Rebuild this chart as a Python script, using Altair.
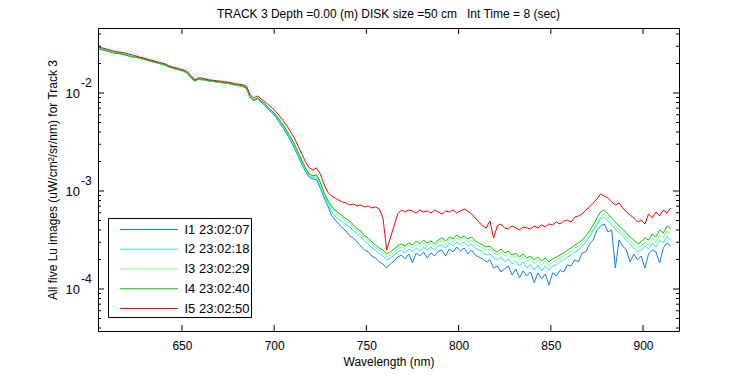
import altair as alt
import pandas as pd

# Wavelength grid (nm)
wavelength = [
    605, 607, 609, 611, 613, 615, 617, 619, 621, 623,
    625, 627, 629, 631, 633, 635, 637, 639, 641, 643,
    645, 647, 649, 651, 653, 655, 657, 659, 661, 663,
    665, 667, 669, 671, 673, 675, 677, 679, 681, 683,
    685, 687, 689, 691, 693, 695, 697, 699, 701, 703,
    705, 707, 709, 711, 713, 715, 717, 719, 721, 723,
    725, 727, 729, 731, 733, 735, 737, 739, 741, 743,
    745, 747, 749, 751, 753, 755, 757, 759, 761, 763,
    765, 767, 769, 771, 773, 775, 777, 779, 781, 783,
    785, 787, 789, 791, 793, 795, 797, 799, 801, 803,
    805, 807, 809, 811, 813, 815, 817, 819, 821, 823,
    825, 827, 829, 831, 833, 835, 837, 839, 841, 843,
    845, 847, 849, 851, 853, 855, 857, 859, 861, 863,
    865, 867, 869, 871, 873, 875, 877, 879, 881, 883,
    885, 887, 889, 891, 893, 895, 897, 899, 901, 903,
    905, 907, 909, 911, 913, 915,
]

# Lu values, in units of 1e-3 uW/cm^2/sr/nm
i1 = [
    28.7, 28.0, 27.3, 26.6, 26.0, 25.6, 25.2, 24.6, 24.0, 23.5,
    23.2, 22.7, 22.1, 21.6, 21.1, 20.6, 20.1, 19.7, 19.2, 18.4,
    17.9, 17.5, 17.1, 16.6, 15.9, 14.1, 13.2, 13.8, 13.6, 13.5,
    13.1, 13.1, 12.8, 12.8, 12.5, 12.5, 12.2, 12.0, 11.8, 11.6,
    11.1, 8.95, 8.35, 8.70, 8.05, 7.45, 6.75, 6.25, 5.65, 4.95,
    4.35, 3.78, 3.25, 2.75, 2.27, 1.88, 1.58, 1.38, 1.33, 1.30,
    1.07, 0.86, 0.71, 0.569, 0.506, 0.461, 0.420, 0.391, 0.348, 0.332,
    0.302, 0.275, 0.250, 0.239, 0.217, 0.207, 0.189, 0.180, 0.164, 0.180,
    0.193, 0.212, 0.222, 0.203, 0.228, 0.185, 0.233, 0.217, 0.239, 0.207,
    0.233, 0.217, 0.244, 0.250, 0.217, 0.256, 0.239, 0.268, 0.244, 0.262,
    0.228, 0.250, 0.222, 0.212, 0.203, 0.189, 0.198, 0.164, 0.172, 0.149,
    0.160, 0.172, 0.139, 0.160, 0.130, 0.153, 0.136, 0.149, 0.116, 0.146,
    0.127, 0.142, 0.110, 0.146, 0.136, 0.156, 0.149, 0.176, 0.172, 0.198,
    0.189, 0.233, 0.239, 0.288, 0.316, 0.400, 0.440, 0.461, 0.382, 0.400,
    0.164, 0.316, 0.275, 0.250, 0.189, 0.228, 0.198, 0.217, 0.164, 0.228,
    0.250, 0.239, 0.185, 0.262, 0.295, 0.275,
]
i2 = [
    29.0, 28.3, 27.6, 26.9, 26.3, 25.9, 25.5, 24.9, 24.3, 23.8,
    23.5, 23.0, 22.5, 22.0, 21.4, 21.0, 20.5, 20.0, 19.5, 18.7,
    18.2, 17.8, 17.4, 16.9, 16.2, 14.5, 13.4, 14.0, 13.9, 13.7,
    13.4, 13.3, 13.1, 13.0, 12.8, 12.7, 12.5, 12.2, 12.1, 11.9,
    11.4, 9.15, 8.50, 8.85, 8.20, 7.60, 6.90, 6.40, 5.80, 5.10,
    4.50, 3.90, 3.35, 2.85, 2.35, 1.95, 1.64, 1.43, 1.38, 1.36,
    1.12, 0.90, 0.75, 0.625, 0.556, 0.518, 0.483, 0.450, 0.430, 0.391,
    0.365, 0.340, 0.309, 0.288, 0.262, 0.250, 0.228, 0.217, 0.198, 0.207,
    0.222, 0.239, 0.250, 0.233, 0.256, 0.239, 0.262, 0.244, 0.268, 0.250,
    0.268, 0.250, 0.275, 0.281, 0.262, 0.295, 0.275, 0.302, 0.281, 0.302,
    0.275, 0.288, 0.262, 0.250, 0.239, 0.222, 0.228, 0.207, 0.198, 0.212,
    0.189, 0.203, 0.180, 0.193, 0.172, 0.189, 0.164, 0.180, 0.156, 0.176,
    0.153, 0.172, 0.156, 0.172, 0.176, 0.189, 0.198, 0.212, 0.222, 0.239,
    0.250, 0.275, 0.302, 0.340, 0.391, 0.450, 0.518, 0.543, 0.494, 0.450,
    0.410, 0.373, 0.348, 0.316, 0.288, 0.262, 0.239, 0.250, 0.275, 0.256,
    0.295, 0.268, 0.316, 0.295, 0.348, 0.316,
]
i3 = [
    28.4, 27.6, 27.0, 26.3, 25.7, 25.4, 25.1, 24.4, 23.9, 23.4,
    23.1, 22.7, 22.2, 21.8, 21.2, 20.8, 20.2, 19.8, 19.2, 18.5,
    18.0, 17.5, 17.2, 16.7, 15.9, 14.2, 13.3, 13.9, 13.7, 13.6,
    13.2, 13.2, 12.9, 12.9, 12.6, 12.6, 12.3, 12.1, 11.9, 11.8,
    11.2, 9.05, 8.45, 8.80, 8.25, 7.70, 6.98, 6.50, 5.92, 5.24,
    4.65, 4.03, 3.50, 2.97, 2.46, 2.03, 1.69, 1.47, 1.41, 1.43,
    1.21, 0.95, 0.79, 0.671, 0.611, 0.556, 0.531, 0.483, 0.472, 0.420,
    0.391, 0.356, 0.332, 0.309, 0.288, 0.262, 0.250, 0.233, 0.212, 0.222,
    0.239, 0.256, 0.268, 0.256, 0.281, 0.262, 0.288, 0.268, 0.295, 0.275,
    0.295, 0.268, 0.302, 0.309, 0.288, 0.324, 0.302, 0.332, 0.309, 0.332,
    0.302, 0.316, 0.288, 0.275, 0.262, 0.250, 0.256, 0.233, 0.222, 0.239,
    0.217, 0.228, 0.207, 0.217, 0.198, 0.212, 0.189, 0.207, 0.180, 0.198,
    0.176, 0.193, 0.172, 0.189, 0.198, 0.207, 0.217, 0.233, 0.244, 0.262,
    0.275, 0.295, 0.324, 0.356, 0.410, 0.472, 0.543, 0.583, 0.531, 0.483,
    0.440, 0.400, 0.373, 0.340, 0.309, 0.281, 0.262, 0.275, 0.302, 0.281,
    0.332, 0.302, 0.356, 0.332, 0.391, 0.365,
]
i4 = [
    28.1, 27.5, 26.8, 26.2, 25.6, 25.5, 25.0, 24.5, 23.9, 23.3,
    23.2, 22.8, 22.3, 21.7, 21.2, 20.7, 20.3, 19.8, 19.3, 18.4,
    18.0, 17.6, 17.2, 16.8, 16.0, 14.3, 13.3, 13.9, 13.8, 13.6,
    13.3, 13.2, 13.0, 12.9, 12.7, 12.6, 12.4, 12.1, 12.0, 11.8,
    11.3, 9.11, 8.49, 8.89, 8.29, 7.73, 7.03, 6.56, 5.97, 5.30,
    4.71, 4.09, 3.55, 3.02, 2.50, 2.07, 1.72, 1.49, 1.43, 1.46,
    1.24, 0.977, 0.809, 0.703, 0.640, 0.597, 0.556, 0.518, 0.494, 0.450,
    0.410, 0.391, 0.348, 0.332, 0.302, 0.281, 0.262, 0.250, 0.228, 0.239,
    0.256, 0.275, 0.288, 0.275, 0.295, 0.281, 0.309, 0.288, 0.316, 0.295,
    0.309, 0.288, 0.316, 0.332, 0.309, 0.340, 0.324, 0.356, 0.332, 0.348,
    0.324, 0.340, 0.309, 0.295, 0.281, 0.268, 0.275, 0.250, 0.239, 0.256,
    0.233, 0.244, 0.222, 0.233, 0.212, 0.228, 0.207, 0.217, 0.198, 0.212,
    0.193, 0.207, 0.189, 0.203, 0.212, 0.222, 0.233, 0.250, 0.262, 0.281,
    0.295, 0.316, 0.348, 0.391, 0.450, 0.531, 0.611, 0.640, 0.583, 0.531,
    0.483, 0.440, 0.410, 0.373, 0.340, 0.316, 0.288, 0.302, 0.332, 0.316,
    0.365, 0.340, 0.400, 0.373, 0.440, 0.410,
]
i5 = [
    29.4, 28.8, 28.1, 27.5, 26.8, 26.2, 26.0, 25.6, 25.0, 24.5,
    23.9, 23.3, 22.8, 22.3, 21.7, 21.2, 20.7, 20.3, 19.8, 18.9,
    18.4, 18.0, 17.6, 17.2, 16.4, 15.0, 13.6, 14.3, 14.2, 13.9,
    13.6, 13.5, 13.3, 13.2, 13.0, 12.9, 12.7, 12.4, 12.3, 12.1,
    11.8, 9.55, 8.89, 9.32, 8.69, 8.10, 7.55, 7.03, 6.41, 5.84,
    5.18, 4.61, 4.00, 3.47, 2.88, 2.39, 1.98, 1.72, 1.64, 1.72,
    1.49, 1.18, 0.977, 0.889, 0.849, 0.809, 0.773, 0.755, 0.719, 0.737,
    0.703, 0.719, 0.687, 0.703, 0.671, 0.687, 0.655, 0.531, 0.250, 0.332,
    0.440, 0.583, 0.640, 0.611, 0.640, 0.625, 0.597, 0.640, 0.611, 0.625,
    0.597, 0.640, 0.611, 0.583, 0.625, 0.611, 0.640, 0.597, 0.625, 0.655,
    0.625, 0.583, 0.531, 0.483, 0.440, 0.420, 0.494, 0.332, 0.440, 0.461,
    0.420, 0.410, 0.440, 0.420, 0.400, 0.430, 0.420, 0.410, 0.440, 0.420,
    0.450, 0.430, 0.461, 0.450, 0.483, 0.461, 0.494, 0.506, 0.483, 0.543,
    0.556, 0.583, 0.640, 0.687, 0.755, 0.829, 0.932, 0.889, 0.849, 0.773,
    0.719, 0.755, 0.671, 0.611, 0.569, 0.531, 0.483, 0.506, 0.461, 0.583,
    0.531, 0.611, 0.556, 0.640, 0.597, 0.671,
]

series_labels = ["I1 23:02:07", "I2 23:02:18", "I3 23:02:29", "I4 23:02:40", "I5 23:02:50"]
series_colors = ["#1080f0", "#1ee6f2", "#80ff80", "#00c400", "#ff0000"]

x_tick_values = [650, 700, 750, 800, 850, 900]
# y ticks in units of 1e-3 (1e-4, 1e-3, 1e-2)
y_major_values = [0.1, 1, 10]
y_major_exponents = ["-4", "-3", "-2"]
y_minor_values = [0.04, 0.05, 0.06, 0.07, 0.08, 0.09,
                  0.2, 0.3, 0.4, 0.5, 0.6, 0.7, 0.8, 0.9,
                  2, 3, 4, 5, 6, 7, 8, 9, 20, 30, 40]

title_text = "TRACK 3 Depth =0.00 (m) DISK size =50 cm\u00a0\u00a0\u00a0Int Time = 8 (sec)"
y_title = "All five Lu images (uW/cm\u00b2/sr/nm) for Track 3"
x_title = "Wavelength (nm)"

W, H = 581, 303
FONT = "Liberation Sans"

rows = []
for lab, vals in zip(series_labels, [i1, i2, i3, i4, i5]):
    for w, v in zip(wavelength, vals):
        rows.append({"wl": w, "lu": v, "series": lab})
df = pd.DataFrame(rows)

xscale = alt.Scale(domain=[604.5, 919.5], nice=False, zero=False)
yscale = alt.Scale(type="log", domain=[0.03727, 46.06], nice=False)

x_axis = alt.Axis(title=x_title, values=x_tick_values, ticks=False, domain=False,
                  grid=False, labelPadding=9, titlePadding=5, format="d",
                  labelFontSize=12, titleFontSize=12)
y_axis = alt.Axis(title=y_title, labels=False, ticks=False, domain=False, grid=False,
                  titlePadding=39, titleFontSize=12)

lines = alt.Chart(df).mark_line(strokeWidth=1, clip=True).encode(
    x=alt.X("wl:Q", scale=xscale, axis=x_axis),
    y=alt.Y("lu:Q", scale=yscale, axis=y_axis),
    color=alt.Color("series:N",
                    scale=alt.Scale(domain=series_labels, range=series_colors),
                    legend=alt.Legend(title=None, orient="none", legendX=10, legendY=190,
                                      direction="vertical", fillColor="white",
                                      strokeColor="black", padding=1, cornerRadius=0,
                                      symbolType="M0.035,0H6.035", symbolSize=374,
                                      symbolStrokeWidth=1, labelFont=FONT, labelFontSize=13,
                                      labelColor="black", labelOffset=54.5, rowPadding=1.75,
                                      labelLimit=300)),
)

xt = pd.DataFrame({"t": x_tick_values})
ymaj = pd.DataFrame({"t": y_major_values, "e": y_major_exponents})
ymin = pd.DataFrame({"t": y_minor_values})

xenc = alt.X("t:Q", scale=xscale, axis=x_axis)
yenc = alt.Y("t:Q", scale=yscale, axis=y_axis)

tick_bottom = alt.Chart(xt).mark_rule(color="black", strokeWidth=1).encode(
    x=xenc, y=alt.value(H), y2=alt.value(H - 6))
tick_top = alt.Chart(xt).mark_rule(color="black", strokeWidth=1).encode(
    x=xenc, y=alt.value(0), y2=alt.value(6))
tick_left_maj = alt.Chart(ymaj).mark_rule(color="black", strokeWidth=1).encode(
    y=yenc, x=alt.value(0), x2=alt.value(6))
tick_right_maj = alt.Chart(ymaj).mark_rule(color="black", strokeWidth=1).encode(
    y=yenc, x=alt.value(W), x2=alt.value(W - 6))
tick_left_min = alt.Chart(ymin).mark_rule(color="black", strokeWidth=1).encode(
    y=yenc, x=alt.value(0), x2=alt.value(3))
tick_right_min = alt.Chart(ymin).mark_rule(color="black", strokeWidth=1).encode(
    y=yenc, x=alt.value(W), x2=alt.value(W - 3))

label_base = alt.Chart(ymaj).mark_text(align="right", baseline="middle", font=FONT,
                                       fontSize=13, dy=1, color="black").encode(
    y=yenc, x=alt.value(-18), text=alt.value("10"))
label_exp = alt.Chart(ymaj).mark_text(align="left", baseline="middle", font=FONT,
                                      fontSize=12, dy=-10, color="black").encode(
    y=yenc, x=alt.value(-17), text="e:N")

chart = alt.layer(
    lines, tick_bottom, tick_top, tick_left_maj, tick_right_maj,
    tick_left_min, tick_right_min, label_base, label_exp,
).properties(
    width=W, height=H,
    title=alt.TitleParams(text=title_text, anchor="middle", font=FONT, fontSize=12,
                          fontWeight="normal", color="black", offset=7),
    autosize=alt.AutoSizeParams(type="none"),
    padding={"left": 90, "top": 20, "right": 60, "bottom": 45},
).configure_view(
    stroke="black", strokeWidth=1
).configure_axis(
    labelFont=FONT, titleFont=FONT, labelColor="black", titleColor="black",
    titleFontWeight="normal"
)

chart.save("out.html", embed_options={"renderer": "svg", "actions": False})
